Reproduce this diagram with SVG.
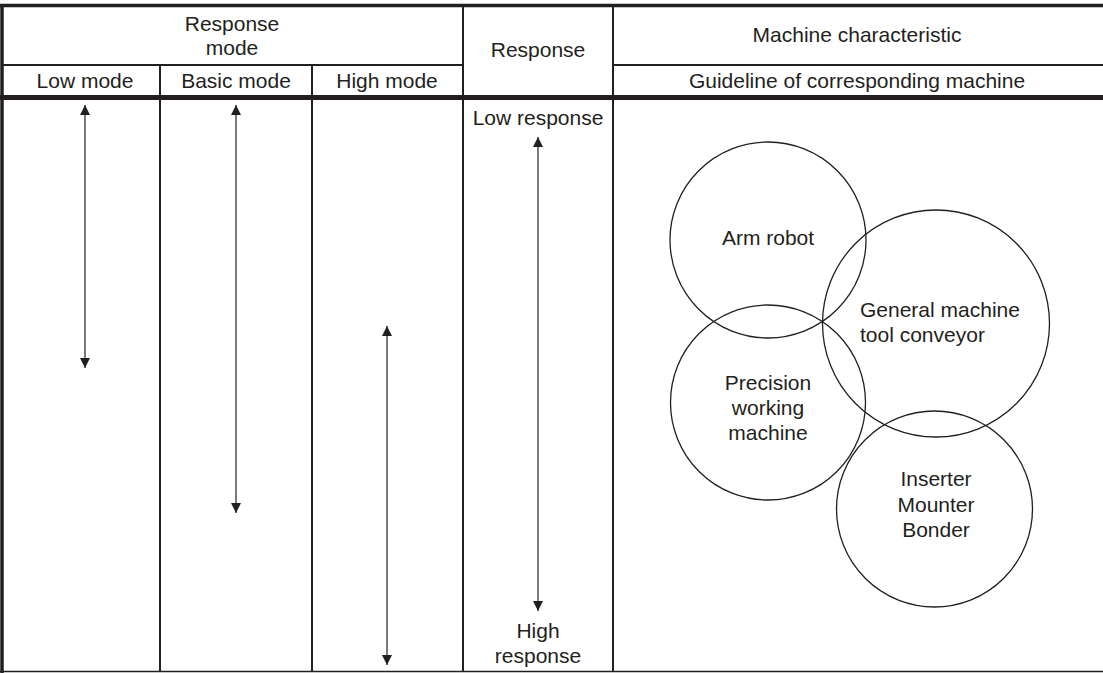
<svg xmlns="http://www.w3.org/2000/svg" width="1103" height="673" viewBox="0 0 1103 673">
<defs>
<style>
.t{font-family:"Liberation Sans",Arial,sans-serif;font-size:21px;fill:#231f20;text-anchor:middle}
.tl{text-anchor:start}
.b{stroke:#231f20;fill:none}
.c{stroke:#231f20;stroke-width:1.3;fill:none}
.a{stroke:#231f20;stroke-width:1.2;fill:none;marker-start:url(#ah);marker-end:url(#ah)}
</style>
<marker id="ah" viewBox="0 0 10 10" refX="10" refY="5" markerWidth="10" markerHeight="10" markerUnits="userSpaceOnUse" orient="auto-start-reverse">
<path d="M0,0 L10,5 L0,10 Z" fill="#231f20"/>
</marker>
</defs>
<g id="table">
<line class="b" x1="0" y1="5.5" x2="1103" y2="5.5" stroke-width="3.5"/>
<line class="b" x1="2" y1="4" x2="2" y2="673" stroke-width="3.5"/>
<line class="b" x1="0" y1="671.5" x2="1103" y2="671.5" stroke-width="1.5"/>
<line class="b" x1="2" y1="65" x2="463" y2="65" stroke-width="2"/>
<line class="b" x1="613" y1="65" x2="1103" y2="65" stroke-width="2"/>
<line class="b" x1="0" y1="97.5" x2="1103" y2="97.5" stroke-width="5"/>
<line class="b" x1="160" y1="65" x2="160" y2="672" stroke-width="2"/>
<line class="b" x1="312" y1="65" x2="312" y2="672" stroke-width="2"/>
<line class="b" x1="463" y1="5" x2="463" y2="672" stroke-width="2"/>
<line class="b" x1="613" y1="5" x2="613" y2="672" stroke-width="2"/>
</g>
<g id="headers">
<text class="t" x="232" y="31">Response</text>
<text class="t" x="232" y="55">mode</text>
<text class="t" x="85" y="88">Low mode</text>
<text class="t" x="236" y="88">Basic mode</text>
<text class="t" x="387" y="88">High mode</text>
<text class="t" x="538" y="57">Response</text>
<text class="t" x="857" y="42">Machine characteristic</text>
<text class="t" x="857" y="88">Guideline of corresponding machine</text>
<text class="t" x="538" y="125">Low response</text>
<text class="t" x="538" y="638">High</text>
<text class="t" x="538" y="663">response</text>
</g>
<g id="connectors">
<line class="a" x1="85" y1="105" x2="85" y2="368"/>
<line class="a" x1="236" y1="105" x2="236" y2="513"/>
<line class="a" x1="387" y1="326" x2="387" y2="665"/>
<line class="a" x1="538" y1="137" x2="538" y2="611"/>
</g>
<g id="arm-robot">
<circle class="c" cx="768" cy="240" r="98"/>
<text class="t" x="768" y="245">Arm robot</text>
</g>
<g id="general-machine">
<circle class="c" cx="936" cy="323.5" r="113.5"/>
<text class="t tl" x="860" y="317">General machine</text>
<text class="t tl" x="860" y="342">tool conveyor</text>
</g>
<g id="precision">
<circle class="c" cx="768" cy="402.5" r="97.5"/>
<text class="t" x="768" y="390">Precision</text>
<text class="t" x="768" y="415">working</text>
<text class="t" x="768" y="440">machine</text>
</g>
<g id="inserter">
<circle class="c" cx="934.5" cy="509" r="98"/>
<text class="t" x="936" y="486">Inserter</text>
<text class="t" x="936" y="512">Mounter</text>
<text class="t" x="936" y="537">Bonder</text>
</g>
</svg>
